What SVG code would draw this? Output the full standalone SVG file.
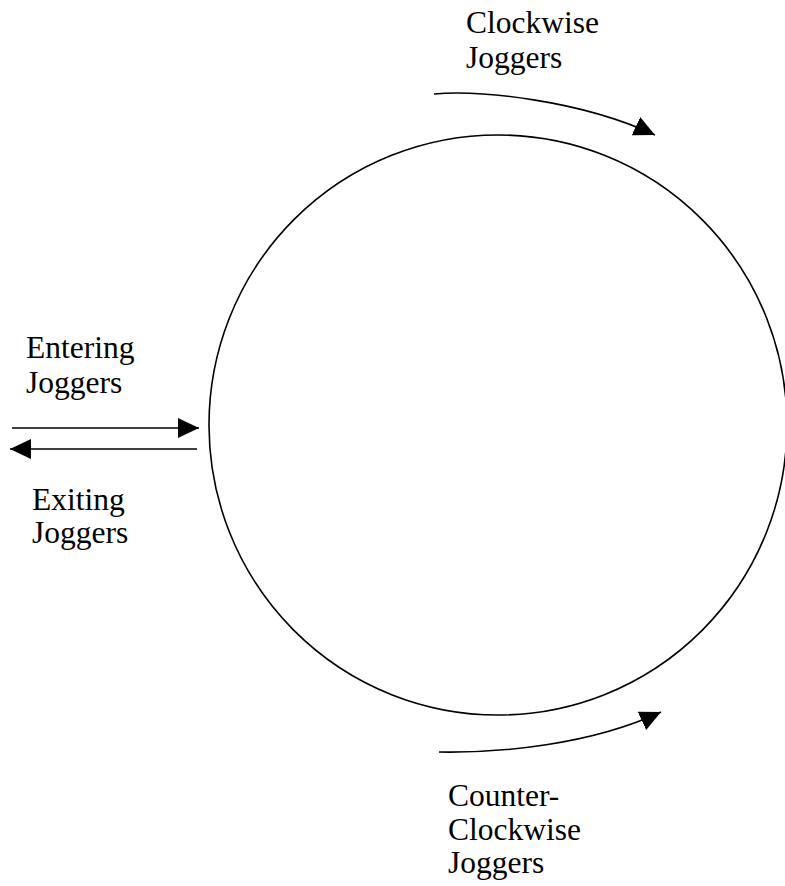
<svg xmlns="http://www.w3.org/2000/svg" width="785" height="886" viewBox="0 0 785 886">
<style>
  .lbl { font-family: "Liberation Serif", "Times New Roman", serif; font-size: 31.5px; fill: #000; }
  .ln { fill: none; stroke: #000; stroke-width: 1.6; }
</style>
<defs>
  <marker id="ah" markerUnits="userSpaceOnUse" markerWidth="22" markerHeight="20" refX="21" refY="10" orient="auto">
    <path d="M0,0 L21,10 L0,20 z" fill="#000"/>
  </marker>
</defs>
<rect width="785" height="886" fill="#fff"/>
<g id="track">
  <ellipse cx="498" cy="425" rx="289" ry="290" class="ln"/>
</g>
<g id="label-clockwise">
  <text class="lbl" x="466" y="33">Clockwise</text>
  <text class="lbl" x="466" y="68">Joggers</text>
</g>
<g id="label-entering">
  <text class="lbl" x="26" y="358">Entering</text>
  <text class="lbl" x="26" y="393">Joggers</text>
</g>
<g id="label-exiting">
  <text class="lbl" x="32" y="510">Exiting</text>
  <text class="lbl" x="32" y="543">Joggers</text>
</g>
<g id="label-counter">
  <text class="lbl" x="448" y="806">Counter-</text>
  <text class="lbl" x="448" y="840">Clockwise</text>
  <text class="lbl" x="448" y="873">Joggers</text>
</g>
<g id="connectors">
  <path class="ln" d="M434,94 C480,90 580,100 655,135" marker-end="url(#ah)"/>
  <path class="ln" d="M439,752 C500,753 590,745 661,712" marker-end="url(#ah)"/>
  <path class="ln" d="M12,428 L199,428" marker-end="url(#ah)"/>
  <path class="ln" d="M197,449 L10,449" marker-end="url(#ah)"/>
</g>
</svg>
